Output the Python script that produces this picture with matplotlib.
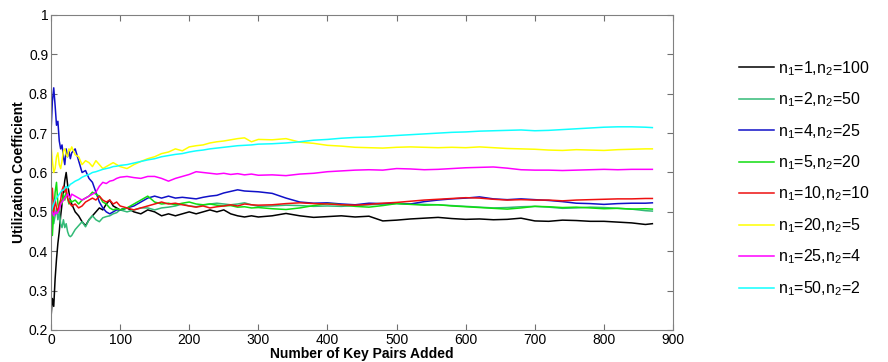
"""Utilization coefficient vs number of key pairs added, for several (n1, n2) splits."""

import matplotlib

matplotlib.use("Agg")
import matplotlib.pyplot as plt

plt.rcParams["font.family"] = ["Liberation Sans", "DejaVu Sans"]
plt.rcParams["mathtext.fontset"] = "custom"
plt.rcParams["mathtext.rm"] = "Liberation Sans"

# shared sample positions (key pairs added)
x = [0, 2, 4, 6, 8, 10, 12, 14, 16, 18, 20, 22, 24, 26, 28, 30,
     35, 40, 45, 50, 55, 60, 65, 70, 75, 80, 85, 90, 95, 100,
     110, 120, 130, 140, 150, 160, 170, 180, 190, 200, 210, 220, 230, 240, 250,
     260, 270, 280, 290, 300,
     320, 340, 360, 380, 400, 420, 440, 460, 480, 500, 520, 540, 560, 580, 600,
     620, 640, 660, 680, 700, 720, 740, 760, 780, 800, 820, 840, 860, 870]

n1_1_n2_100 = [0.23, 0.28, 0.26, 0.33, 0.38, 0.42, 0.45, 0.49, 0.52, 0.55, 0.58, 0.60, 0.57, 0.55, 0.53, 0.52,
               0.50, 0.49, 0.475, 0.465, 0.48, 0.49, 0.50, 0.51, 0.505, 0.52, 0.53, 0.515, 0.51, 0.505,
               0.51, 0.50, 0.495, 0.505, 0.50, 0.49, 0.495, 0.49, 0.495, 0.50, 0.495, 0.50, 0.505, 0.50, 0.505,
               0.495, 0.49, 0.487, 0.49, 0.487,
               0.49, 0.496, 0.49, 0.486, 0.488, 0.49, 0.487, 0.489, 0.477, 0.479, 0.482, 0.484, 0.486, 0.483, 0.481,
               0.482, 0.480, 0.481, 0.484, 0.477, 0.476, 0.479, 0.478, 0.476, 0.476, 0.474, 0.472, 0.468, 0.470]

n1_2_n2_50 = [0.52, 0.50, 0.47, 0.49, 0.51, 0.48, 0.50, 0.47, 0.46, 0.48, 0.46, 0.47, 0.45, 0.44, 0.437, 0.44,
              0.455, 0.465, 0.475, 0.462, 0.48, 0.49, 0.48, 0.475, 0.485, 0.488, 0.49, 0.495, 0.498, 0.505,
              0.50, 0.505, 0.51, 0.51, 0.505, 0.51, 0.512, 0.515, 0.52, 0.515, 0.513, 0.517, 0.52, 0.522, 0.52,
              0.518, 0.52, 0.523, 0.518, 0.514,
              0.515, 0.517, 0.516, 0.514, 0.515, 0.514, 0.516, 0.518, 0.52, 0.521, 0.52, 0.519, 0.518, 0.516, 0.514,
              0.512, 0.51, 0.511, 0.513, 0.514, 0.512, 0.509, 0.51, 0.512, 0.511, 0.509, 0.507, 0.503, 0.502]

n1_4_n2_25 = [0.70, 0.78, 0.815, 0.77, 0.72, 0.73, 0.68, 0.66, 0.67, 0.64, 0.62, 0.66, 0.64, 0.655, 0.635, 0.65,
              0.66, 0.63, 0.60, 0.605, 0.585, 0.575, 0.55, 0.525, 0.51, 0.50, 0.495, 0.50, 0.505, 0.505,
              0.51, 0.515, 0.525, 0.535, 0.54, 0.535, 0.54, 0.535, 0.537, 0.535, 0.533, 0.537, 0.54, 0.542, 0.548,
              0.552, 0.556, 0.553, 0.552, 0.551,
              0.547, 0.535, 0.525, 0.522, 0.523, 0.52, 0.518, 0.522, 0.521, 0.522, 0.52, 0.526, 0.53, 0.533, 0.535,
              0.538, 0.533, 0.531, 0.533, 0.531, 0.529, 0.526, 0.522, 0.521, 0.519, 0.521, 0.522, 0.522, 0.523]

n1_5_n2_20 = [0.58, 0.44, 0.50, 0.55, 0.575, 0.52, 0.50, 0.53, 0.52, 0.545, 0.53, 0.55, 0.535, 0.52, 0.53, 0.525,
              0.53, 0.52, 0.53, 0.535, 0.54, 0.55, 0.545, 0.54, 0.525, 0.52, 0.51, 0.505, 0.508, 0.505,
              0.51, 0.52, 0.53, 0.54, 0.525, 0.52, 0.522, 0.518, 0.522, 0.525, 0.52, 0.518, 0.52, 0.517, 0.515,
              0.516, 0.512, 0.513, 0.51, 0.511,
              0.508, 0.506, 0.51, 0.516, 0.521, 0.518, 0.514, 0.512, 0.516, 0.521, 0.519, 0.517, 0.518, 0.515, 0.513,
              0.511, 0.509, 0.507, 0.51, 0.514, 0.513, 0.511, 0.512, 0.51, 0.508, 0.509, 0.507, 0.508, 0.507]

n1_10_n2_10 = [0.52, 0.56, 0.50, 0.53, 0.51, 0.50, 0.52, 0.53, 0.555, 0.565, 0.55, 0.56, 0.535, 0.525, 0.52, 0.515,
               0.52, 0.51, 0.515, 0.525, 0.53, 0.535, 0.53, 0.54, 0.53, 0.525, 0.53, 0.52, 0.525, 0.515,
               0.51, 0.505, 0.51, 0.515, 0.52, 0.525, 0.52, 0.522, 0.518, 0.515, 0.512, 0.515, 0.51, 0.513, 0.515,
               0.518, 0.515, 0.52, 0.518, 0.517,
               0.518, 0.521, 0.523, 0.521, 0.52, 0.518, 0.517, 0.519, 0.522, 0.524, 0.527, 0.53, 0.532, 0.534, 0.536,
               0.535, 0.532, 0.53, 0.531, 0.53, 0.53, 0.528, 0.53, 0.531, 0.532, 0.533, 0.533, 0.534, 0.534]

n1_20_n2_5 = [0.67, 0.63, 0.60, 0.61, 0.64, 0.65, 0.62, 0.61, 0.63, 0.655, 0.66, 0.645, 0.64, 0.66, 0.655, 0.665,
              0.645, 0.64, 0.62, 0.63, 0.625, 0.615, 0.63, 0.62, 0.61, 0.615, 0.62, 0.625, 0.62, 0.615,
              0.61, 0.62, 0.628, 0.635, 0.64, 0.648, 0.652, 0.66, 0.655, 0.665, 0.668, 0.67, 0.675, 0.678, 0.68,
              0.683, 0.686, 0.688, 0.678, 0.684,
              0.683, 0.686, 0.677, 0.674, 0.669, 0.667, 0.664, 0.663, 0.662, 0.664, 0.665, 0.664, 0.663, 0.664, 0.663,
              0.665, 0.663, 0.661, 0.66, 0.659, 0.657, 0.656, 0.658, 0.657, 0.656, 0.658, 0.659, 0.66, 0.66]

n1_25_n2_4 = [0.50, 0.50, 0.49, 0.50, 0.495, 0.50, 0.505, 0.52, 0.525, 0.53, 0.535, 0.54, 0.545, 0.54, 0.535, 0.545,
              0.54, 0.535, 0.53, 0.535, 0.54, 0.545, 0.55, 0.565, 0.575, 0.572, 0.578, 0.58, 0.585, 0.588,
              0.59, 0.587, 0.585, 0.59, 0.59, 0.585, 0.578, 0.585, 0.59, 0.595, 0.602, 0.60, 0.598, 0.596, 0.598,
              0.595, 0.597, 0.594, 0.596, 0.593,
              0.594, 0.592, 0.596, 0.598, 0.602, 0.604, 0.606, 0.607, 0.606, 0.61, 0.609, 0.607, 0.608, 0.61, 0.612,
              0.613, 0.614, 0.611, 0.607, 0.606, 0.606, 0.605, 0.606, 0.607, 0.608, 0.607, 0.608, 0.608, 0.608]

n1_50_n2_2 = [0.50, 0.51, 0.52, 0.53, 0.535, 0.54, 0.545, 0.55, 0.555, 0.555, 0.56, 0.565, 0.56, 0.565, 0.57, 0.572,
              0.578, 0.582, 0.588, 0.592, 0.595, 0.60, 0.602, 0.605, 0.608, 0.61, 0.612, 0.615, 0.616, 0.618,
              0.62, 0.624, 0.628, 0.632, 0.635, 0.64, 0.643, 0.646, 0.648, 0.652, 0.655, 0.657, 0.66, 0.662, 0.664,
              0.666, 0.668, 0.669, 0.67, 0.672,
              0.673, 0.675, 0.678, 0.682, 0.684, 0.687, 0.689, 0.69, 0.692, 0.694, 0.696, 0.698, 0.70, 0.702, 0.703,
              0.705, 0.706, 0.707, 0.708, 0.706, 0.707, 0.709, 0.711, 0.713, 0.715, 0.716, 0.716, 0.715, 0.714]

labels = [r"n$_1$=1,n$_2$=100", r"n$_1$=2,n$_2$=50", r"n$_1$=4,n$_2$=25", r"n$_1$=5,n$_2$=20",
          r"n$_1$=10,n$_2$=10", r"n$_1$=20,n$_2$=5", r"n$_1$=25,n$_2$=4", r"n$_1$=50,n$_2$=2"]
series = [n1_1_n2_100, n1_2_n2_50, n1_4_n2_25, n1_5_n2_20,
          n1_10_n2_10, n1_20_n2_5, n1_25_n2_4, n1_50_n2_2]
colors = ["#000000", "#33bb77", "#1010c8", "#10dd10",
          "#ee1010", "#ffff00", "#ff00ff", "#10ffff"]

fig = plt.figure(figsize=(8.88, 3.62), dpi=100)
ax = fig.add_axes([0.0574, 0.0884, 0.7006, 0.8702])

for ys, c, lab in zip(series, colors, labels):
    ax.plot(x, ys, color=c, lw=1.1, label=lab)

ax.set_xlim(0, 900)
ax.set_ylim(0.2, 1.0)
ax.set_xticks(range(0, 901, 100))
ax.set_yticks([0.2, 0.3, 0.4, 0.5, 0.6, 0.7, 0.8, 0.9, 1.0])
ax.set_yticklabels(["0.2", "0.3", "0.4", "0.5", "0.6", "0.7", "0.8", "0.9", "1"])
ax.tick_params(direction="in", top=True, right=True, length=4,
               color="#707070", labelsize=10, pad=2)
for s in ax.spines.values():
    s.set_color("#808080")

ax.set_xlabel("Number of Key Pairs Added", fontsize=10, fontweight="bold", labelpad=0)
ax.set_ylabel("Utilization Coefficient", fontsize=10, fontweight="bold", labelpad=2)

fig.legend(loc="upper left", bbox_to_anchor=(0.825, 0.855), frameon=False,
           fontsize=11.5, handlelength=2.2, handletextpad=0.25, labelspacing=0.8,
           borderaxespad=0)

fig.savefig("out.png", dpi=100)
